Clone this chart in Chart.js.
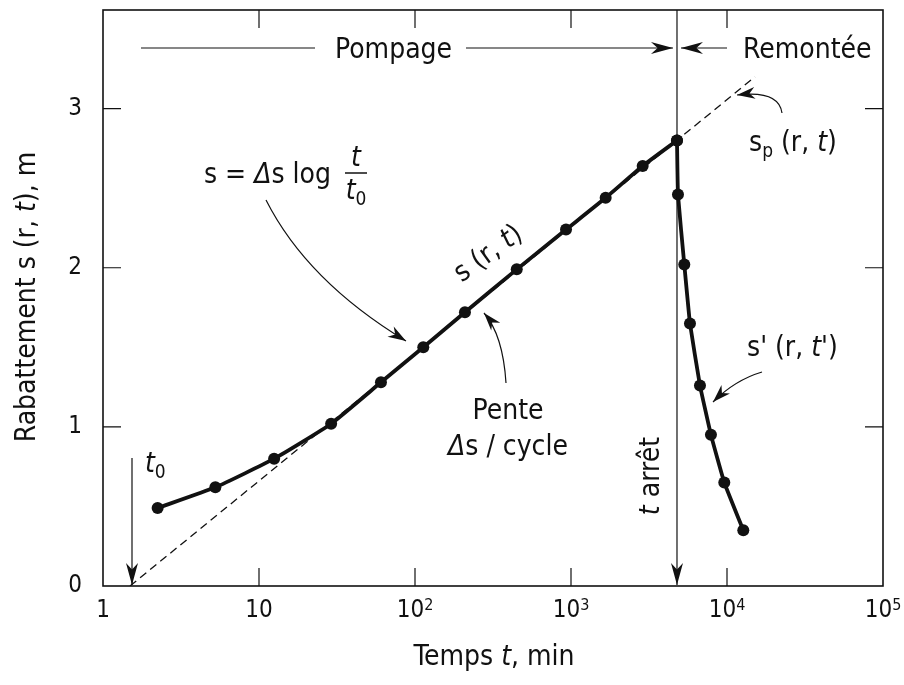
<!DOCTYPE html>
<html>
<head>
<meta charset="utf-8">
<script src="https://cdn.jsdelivr.net/npm/chart.js@4.4.1/dist/chart.umd.min.js"></script>
<style>
  html, body { margin: 0; padding: 0; background: #fff; }
  #wrap { width: 904px; height: 685px; }
</style>
</head>
<body>
<div id="wrap"><canvas id="chart" width="904" height="685"></canvas></div>
<script>
// 데이터: 양수 시험 (Cooper-Jacob)
const pumpT = [2.24, 5.25, 12.5, 29.0, 60.5, 113, 209, 449, 929, 1668, 2880, 4780];
const pumpS = [0.49, 0.62, 0.80, 1.02, 1.28, 1.50, 1.72, 1.99, 2.24, 2.44, 2.64, 2.80];
const recovT = [4780, 4850, 5325, 5790, 6710, 7890, 9610, 12720];
const recovS = [2.80, 2.46, 2.02, 1.65, 1.26, 0.95, 0.65, 0.35];
const tangentT = [1.49, 15100];
const tangentS = [0, 3.20];
const tStop = 4780;

const xTickValues = [1, 10, 100, 1000, 10000, 100000];
const xTickLabels = ['1', '10', '10^2', '10^3', '10^4', '10^5'];
const yTickValues = [0, 1, 2, 3];
const yTickLabels = ['0', '1', '2', '3'];

const FAMILY = '"Liberation Sans Narrow", "DejaVu Sans Condensed", "Liberation Sans", sans-serif';
const INK = '#111';
const FS = 28;

function fontOf(size, italic) {
  return (italic ? 'italic ' : '') + size + 'px ' + FAMILY;
}

// 서식 있는 텍스트: [텍스트, 스타일] 스타일 = '' | 'i' | 'sub' | 'sup'
function segFont(style, size) {
  if (style === 'sub' || style === 'sup') return fontOf(Math.round(size * 0.68), false);
  return fontOf(size, style === 'i');
}
function richWidth(ctx, segs, size) {
  let w = 0;
  segs.forEach(([t, st]) => { ctx.font = segFont(st || '', size); w += ctx.measureText(t).width; });
  return w;
}
function drawRich(ctx, segs, x, y, size, align) {
  const w = richWidth(ctx, segs, size);
  let cx = align === 'center' ? x - w / 2 : align === 'right' ? x - w : x;
  ctx.textAlign = 'left';
  ctx.textBaseline = 'alphabetic';
  segs.forEach(([t, st]) => {
    st = st || '';
    ctx.font = segFont(st, size);
    let dy = 0;
    if (st === 'sub') dy = size * 0.22;
    if (st === 'sup') dy = -size * 0.3;
    ctx.fillText(t, cx, y + dy);
    cx += ctx.measureText(t).width;
  });
}

// 화살촉
function arrowHead(ctx, x, y, ang, len, half) {
  len = len || 22; half = half || 6;
  ctx.save();
  ctx.translate(x, y);
  ctx.rotate(ang);
  ctx.beginPath();
  ctx.moveTo(0, 0);
  ctx.lineTo(-len, -half);
  ctx.lineTo(-len * 0.7, 0);
  ctx.lineTo(-len, half);
  ctx.closePath();
  ctx.fill();
  ctx.restore();
}
function arrowLine(ctx, x0, y0, x1, y1) {
  ctx.beginPath();
  ctx.moveTo(x0, y0);
  ctx.lineTo(x1, y1);
  ctx.stroke();
  arrowHead(ctx, x1, y1, Math.atan2(y1 - y0, x1 - x0));
}
function curvedArrow(ctx, x0, y0, cx, cy, x1, y1) {
  ctx.beginPath();
  ctx.moveTo(x0, y0);
  ctx.quadraticCurveTo(cx, cy, x1, y1);
  ctx.stroke();
  arrowHead(ctx, x1, y1, Math.atan2(y1 - cy, x1 - cx), 18, 6);
}

const decor = {
  id: 'decor',
  afterDatasetsDraw(chart) {
    const { ctx, chartArea: a, scales: { x, y } } = chart;
    ctx.save();
    ctx.strokeStyle = INK;
    ctx.fillStyle = INK;

    // 테두리 + 안쪽 눈금
    ctx.lineWidth = 1.6;
    ctx.strokeRect(a.left, a.top, a.right - a.left, a.bottom - a.top);
    ctx.lineWidth = 1.2;
    const tl = 18;
    xTickValues.forEach(v => {
      const px = x.getPixelForValue(v);
      if (px <= a.left + 1 || px >= a.right - 1) return;
      ctx.beginPath();
      ctx.moveTo(px, a.bottom); ctx.lineTo(px, a.bottom - tl);
      ctx.moveTo(px, a.top); ctx.lineTo(px, a.top + tl);
      ctx.stroke();
    });
    yTickValues.forEach(v => {
      const py = y.getPixelForValue(v);
      if (py >= a.bottom - 1) return;
      ctx.beginPath();
      ctx.moveTo(a.left, py); ctx.lineTo(a.left + tl, py);
      ctx.moveTo(a.right, py); ctx.lineTo(a.right - tl, py);
      ctx.stroke();
    });

    // x 눈금 라벨 (지수 표기)
    xTickValues.forEach((v, i) => {
      const [base, exp] = xTickLabels[i].split('^');
      const segs = exp ? [[base, ''], [exp, 'sup']] : [[base, '']];
      drawRich(ctx, segs, x.getPixelForValue(v), a.bottom + 31, 24, 'center');
    });

    // 축 제목
    drawRich(ctx, [['Temps ', ''], ['t', 'i'], [', min', '']], 494, 665, FS, 'center');
    ctx.save();
    ctx.translate(35, 297);
    ctx.rotate(-Math.PI / 2);
    drawRich(ctx, [['Rabattement s (r, ', ''], ['t', 'i'], ['), m', '']], 0, 0, FS, 'center');
    ctx.restore();

    // 정지 시점 수직선
    ctx.lineWidth = 1.2;
    const xs = x.getPixelForValue(tStop);
    arrowLine(ctx, xs, a.top, xs, a.bottom - 1);

    // 양수 / 회복 구간
    ctx.beginPath();
    ctx.moveTo(141, 48); ctx.lineTo(315, 48);
    ctx.stroke();
    drawRich(ctx, [['Pompage', '']], 335, 58, FS, 'left');
    arrowLine(ctx, 466, 48, xs - 4, 48);
    arrowLine(ctx, 727, 48, xs + 4, 48);
    drawRich(ctx, [['Remontée', '']], 743, 58, FS, 'left');

    // 공식
    drawRich(ctx, [['s = ', ''], ['Δ', 'i'], ['s log', '']], 204, 183, FS, 'left');
    drawRich(ctx, [['t', 'i']], 356, 166, FS, 'center');
    ctx.lineWidth = 1.5;
    ctx.beginPath(); ctx.moveTo(345, 173); ctx.lineTo(367, 173); ctx.stroke();
    drawRich(ctx, [['t', 'i'], ['0', 'sub']], 356, 199, FS, 'center');
    ctx.lineWidth = 1.2;
    curvedArrow(ctx, 266, 200, 307, 281, 406, 341);

    // s(r,t) 곡선 라벨
    ctx.save();
    ctx.translate(493, 260);
    ctx.rotate(-36 * Math.PI / 180);
    drawRich(ctx, [['s (r, ', ''], ['t', 'i'], [')', '']], 0, 0, FS, 'center');
    ctx.restore();

    // 기울기
    drawRich(ctx, [['Pente', '']], 508, 419, FS, 'center');
    drawRich(ctx, [['Δ', 'i'], ['s / cycle', '']], 508, 455, FS, 'center');
    curvedArrow(ctx, 506, 383, 503, 335, 484, 313);

    // t arrêt
    ctx.save();
    ctx.translate(659, 476);
    ctx.rotate(-Math.PI / 2);
    drawRich(ctx, [['t', 'i'], [' arrêt', '']], 0, 0, FS, 'center');
    ctx.restore();

    // s'(r,t')
    drawRich(ctx, [["s' (r, ", ''], ['t', 'i'], ["')", '']], 747, 356, FS, 'left');
    curvedArrow(ctx, 762, 372, 735, 380, 713, 402);

    // sp(r,t)
    drawRich(ctx, [['s', ''], ['p', 'sub'], [' (r, ', ''], ['t', 'i'], [')', '']], 749, 151, FS, 'left');
    curvedArrow(ctx, 782, 113, 779, 90, 737, 95);

    // t0
    drawRich(ctx, [['t', 'i'], ['0', 'sub']], 145, 472, FS, 'left');
    arrowLine(ctx, 132, 458, 132, a.bottom - 1);

    ctx.restore();
  }
};

const pts = (ts, ss) => ts.map((t, i) => ({ x: t, y: ss[i] }));

new Chart(document.getElementById('chart'), {
  type: 'scatter',
  data: {
    datasets: [
      {
        label: 's(r,t)',
        data: pts(pumpT, pumpS),
        showLine: true,
        borderColor: INK,
        borderWidth: 3.8,
        pointRadius: 6,
        pointBackgroundColor: INK,
        pointBorderWidth: 0,
        tension: 0.15,
        order: 1
      },
      {
        label: "s'(r,t')",
        data: pts(recovT, recovS),
        showLine: true,
        borderColor: INK,
        borderWidth: 3.8,
        pointRadius: 6,
        pointBackgroundColor: INK,
        pointBorderWidth: 0,
        tension: 0.1,
        order: 1
      },
      {
        label: 'sp(r,t)',
        data: pts(tangentT, tangentS),
        showLine: true,
        borderColor: INK,
        borderWidth: 1.3,
        borderDash: [8, 5],
        pointRadius: 0,
        order: 2
      }
    ]
  },
  options: {
    responsive: false,
    animation: false,
    devicePixelRatio: 1,
    layout: { padding: { top: 10, right: 21, left: 0, bottom: 0 } },
    plugins: { legend: { display: false }, tooltip: { enabled: false } },
    scales: {
      x: {
        type: 'logarithmic',
        min: 1,
        max: 100000,
        grid: { display: false, drawTicks: false },
        border: { display: false },
        ticks: { display: false },
        afterBuildTicks: s => { s.ticks = xTickValues.map(v => ({ value: v })); },
        afterFit: s => { s.height = 99; s.paddingLeft = 0; s.paddingRight = 0; }
      },
      y: {
        type: 'linear',
        min: 0,
        max: 3.62,
        grid: { display: false, drawTicks: false },
        border: { display: false },
        ticks: {
          padding: 21,
          color: INK,
          font: { size: 24, family: FAMILY },
          callback: v => yTickLabels[yTickValues.indexOf(v)] ?? ''
        },
        afterBuildTicks: s => { s.ticks = yTickValues.map(v => ({ value: v })); },
        afterFit: s => { s.width = 103; s.paddingTop = 0; s.paddingBottom = 0; }
      }
    }
  },
  plugins: [decor]
});
</script>
</body>
</html>
